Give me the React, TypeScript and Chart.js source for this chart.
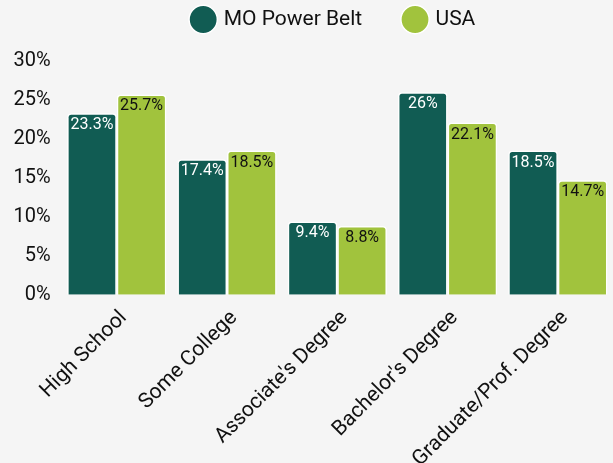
import React, { useEffect, useRef } from "react";
import { Chart, registerables } from "chart.js";

Chart.register(...registerables);

const categories = ["High School", "Some College", "Associate's Degree", "Bachelor's Degree", "Graduate/Prof. Degree"];
const moPowerBelt = [23.3, 17.4, 9.4, 26, 18.5];
const usa = [25.7, 18.5, 8.8, 22.1, 14.7];
const seriesNames = ["MO Power Belt", "USA"];
const yTicks = [0, 5, 10, 15, 20, 25, 30];

const DARK = "#115c53";
const LIGHT = "#a1c33d";
const FONT = "Roboto, 'Noto Sans', sans-serif";

const labelPlugin = {
  id: "barLabels",
  afterDatasetsDraw(chart: any) {
    const ctx = chart.ctx;
    ctx.save();
    ctx.font = `16px ${FONT}`;
    ctx.textAlign = "center";
    ctx.textBaseline = "top";
    chart.data.datasets.forEach((ds: any, di: number) => {
      const meta = chart.getDatasetMeta(di);
      meta.data.forEach((bar: any, i: number) => {
        ctx.fillStyle = di === 0 ? "#ffffff" : "#111111";
        ctx.fillText(`${ds.data[i]}%`, bar.x, bar.y + 4);
      });
    });
    ctx.restore();
  },
};

const bgPlugin = {
  id: "bg",
  beforeDraw(chart: any) {
    const ctx = chart.ctx;
    ctx.save();
    ctx.fillStyle = "#f5f5f5";
    ctx.fillRect(0, 0, chart.width, chart.height);
    ctx.restore();
  },
};

const legendGapPlugin = {
  id: "legendGap",
  beforeInit(chart: any) {
    const legend = chart.legend;
    if (!legend) return;
    const origFit = legend.fit;
    legend.fit = function () {
      origFit.call(this);
      this.height += 22;
    };
    const origDraw = legend.draw;
    legend.draw = function () {
      const ctx = this.ctx;
      ctx.save();
      ctx.translate(22.5, 1);
      origDraw.call(this);
      ctx.restore();
    };
  },
};

export default function App() {
  const ref = useRef<HTMLCanvasElement>(null);
  useEffect(() => {
    document.body.style.margin = "0";
    document.body.style.background = "#f5f5f5";
    document.body.style.overflow = "hidden";
    document.documentElement.style.overflow = "hidden";
    const chart = new Chart(ref.current!, {
      type: "bar",
      data: {
        labels: categories,
        datasets: [
          {
            label: seriesNames[0],
            data: moPowerBelt,
            backgroundColor: DARK,
            borderColor: "#ffffff",
            borderWidth: 1.5,
            borderRadius: 4,
            borderSkipped: "bottom",
          },
          {
            label: seriesNames[1],
            data: usa,
            backgroundColor: LIGHT,
            borderColor: "#ffffff",
            borderWidth: 1.5,
            borderRadius: 4,
            borderSkipped: "bottom",
          },
        ],
      },
      options: {
        animation: false,
        responsive: false,
        maintainAspectRatio: false,
        layout: { padding: { left: 10.5, right: 0, top: 0, bottom: 0 } },
        datasets: { bar: { categoryPercentage: 0.9, barPercentage: 1.0 } },
        plugins: {
          legend: {
            position: "top",
            labels: {
              usePointStyle: true,
              pointStyle: "circle",
              boxWidth: 20,
              boxHeight: 20,
              padding: 8,
              color: "#111111",
              font: { family: FONT, size: 21 },
              generateLabels(chart: any) {
                const items = Chart.defaults.plugins.legend.labels.generateLabels(chart);
                items.forEach((it: any, i: number) => {
                  if (i === 0) it.text = it.text + "      \u2006";
                });
                return items;
              },
            },
          },
          tooltip: { enabled: false },
        },
        scales: {
          x: {
            grid: { display: false },
            border: { display: false },
            ticks: {
              color: "#111111",
              font: { family: FONT, size: 21 },
              maxRotation: 45,
              minRotation: 45,
              labelOffset: 7,
            },
          },
          y: {
            min: 0,
            max: 30,
            grid: { display: false },
            border: { display: false },
            afterBuildTicks(axis: any) {
              axis.ticks = yTicks.map((v) => ({ value: v }));
            },
            ticks: {
              color: "#111111",
              font: { family: FONT, size: 20 },
              callback: (v: any) => `${v}%`,
            },
          },
        },
      },
      plugins: [bgPlugin, legendGapPlugin, labelPlugin],
    });
    return () => chart.destroy();
  }, []);
  return <canvas ref={ref} width={613} height={475} style={{ display: "block" }} />;
}
